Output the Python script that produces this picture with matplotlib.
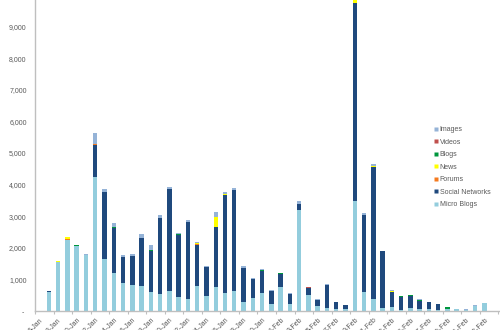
import matplotlib
matplotlib.use("Agg")
import matplotlib.pyplot as plt
from matplotlib.lines import Line2D
import numpy as np

plt.rcParams['font.family'] = ['Liberation Sans', 'DejaVu Sans']

dates = ["6-Jan", "7-Jan", "8-Jan", "9-Jan", "10-Jan", "11-Jan", "12-Jan", "13-Jan", "14-Jan",
         "15-Jan", "16-Jan", "17-Jan", "18-Jan", "19-Jan", "20-Jan", "21-Jan", "22-Jan", "23-Jan",
         "24-Jan", "25-Jan", "26-Jan", "27-Jan", "28-Jan", "29-Jan", "30-Jan", "31-Jan", "1-Feb",
         "2-Feb", "3-Feb", "4-Feb", "5-Feb", "6-Feb", "7-Feb", "8-Feb", "9-Feb", "10-Feb", "11-Feb",
         "12-Feb", "13-Feb", "14-Feb", "15-Feb", "16-Feb", "17-Feb", "18-Feb", "19-Feb", "20-Feb",
         "21-Feb", "22-Feb", "23-Feb"]

micro_blogs = [0, 610, 1560, 2260, 2070, 1760, 4250, 1650, 1200, 890, 835, 800, 615, 550, 630,
               450, 380, 790, 480, 750, 560, 630, 270, 410, 570, 225, 765, 230, 3200, 500, 160,
               105, 75, 75, 3480, 605, 370, 105, 115, 45, 95, 70, 70, 35, 50, 55, 20, 170, 260]
social_networks = [0, 20, 0, 0, 0, 10, 1010, 2110, 1420, 830, 920, 1520, 1280, 2400, 3220,
                   1960, 2430, 1300, 900, 1920, 3110, 3210, 1090, 610, 690, 420, 400, 310, 200,
                   220, 200, 710, 200, 120, 6255, 2430, 4180, 1780, 490, 400, 390, 260, 200, 200,
                   10, 0, 0, 0, 0]
forums = [0, 0, 0, 20, 0, 0, 30, 0, 0, 0, 0, 0, 0, 0, 0, 0, 0, 15, 0, 0, 0, 0, 0, 0, 0, 0, 0,
          0, 0, 0, 0, 0, 0, 0, 0, 0, 0, 0, 0, 0, 0, 0, 0, 0, 0, 0, 0, 0, 0]
news = [0, 0, 20, 60, 0, 0, 0, 0, 0, 0, 0, 0, 0, 0, 0, 0, 0, 45, 0, 300, 40, 0, 0, 0, 20, 0, 0,
        0, 0, 0, 0, 0, 0, 0, 130, 0, 40, 0, 30, 0, 0, 0, 0, 0, 15, 0, 0, 0, 0]
blogs = [0, 0, 0, 0, 20, 0, 0, 0, 30, 0, 0, 0, 50, 0, 0, 40, 0, 0, 0, 20, 0, 0, 0, 0, 15, 0, 30,
         0, 0, 0, 0, 0, 0, 0, 0, 0, 0, 0, 0, 30, 30, 30, 30, 0, 40, 0, 25, 0, 0]
videos = [0, 0, 0, 0, 0, 0, 0, 0, 0, 0, 0, 0, 0, 0, 0, 0, 0, 0, 0, 0, 0, 0, 0, 0, 0, 0, 0, 0, 0,
          30, 0, 0, 0, 0, 0, 0, 0, 0, 0, 0, 0, 0, 0, 0, 0, 0, 0, 0, 0]
images = [0, 0, 0, 0, 0, 20, 350, 100, 135, 40, 45, 130, 140, 85, 65, 30, 70, 35, 50, 150, 50,
          65, 50, 25, 25, 25, 0, 20, 75, 20, 20, 30, 10, 10, 0, 70, 60, 20, 30, 0, 0, 15, 0, 0,
          10, 10, 10, 20, 0]

series = [("Micro Blogs", micro_blogs, "#93CDDD"),
          ("Social Networks", social_networks, "#1F497D"),
          ("Forums", forums, "#F57A1F"),
          ("News", news, "#FFFF00"),
          ("Blogs", blogs, "#00963C"),
          ("Videos", videos, "#C0504D"),
          ("Images", images, "#95B3D7")]

fig = plt.figure(figsize=(5, 3.3), dpi=100)
ax = fig.add_axes([35 / 500, 19 / 330, 465 / 500, 311 / 330])

x = np.arange(len(dates))
bottom = np.zeros(len(dates))
for name, vals, col in series:
    v = np.array(vals, dtype=float)
    ax.bar(x, v, bottom=bottom, width=0.48, color=col, edgecolor='none', label=name)
    bottom += v

ax.set_xlim(-0.5, 49.67)
ax.set_ylim(0, 9842)

for s in ['top', 'right']:
    ax.spines[s].set_visible(False)
for s in ['left', 'bottom']:
    ax.spines[s].set_color('#BFBFBF')
    ax.spines[s].set_linewidth(1.0)

yt = np.arange(0, 10000, 1000)
ax.set_yticks(yt)
ax.set_yticklabels(["- "] + [f"{v:,}" for v in yt[1:]])
ax.tick_params(axis='y', length=0, pad=6, labelsize=5, labelcolor='#595959')

ax.set_xticks(x[::2])
ax.set_xticklabels(dates[::2], rotation=45, ha='right', va='top', rotation_mode='anchor')
ax.tick_params(axis='x', which='major', length=0, pad=4, labelsize=5, labelcolor='#595959')
ax.set_xticks(np.arange(-0.5, 50, 2), minor=True)
ax.tick_params(axis='x', which='minor', length=2.5, color='#BFBFBF', width=0.8)

handles = [Line2D([], [], marker='s', linestyle='none', markersize=2.5,
                  markerfacecolor=col, markeredgecolor='none')
           for name, vals, col in series[::-1]]
labels = [name for name, vals, col in series[::-1]]
leg = fig.legend(handles, labels, loc='upper left', bbox_to_anchor=(435 / 500, 1 - 126 / 330),
                 frameon=False, fontsize=5, handlelength=0.4, handletextpad=0.25,
                 labelspacing=0.8, borderpad=0, borderaxespad=0)
for t in leg.get_texts():
    t.set_color('#595959')

fig.savefig("out.png", dpi=100)
